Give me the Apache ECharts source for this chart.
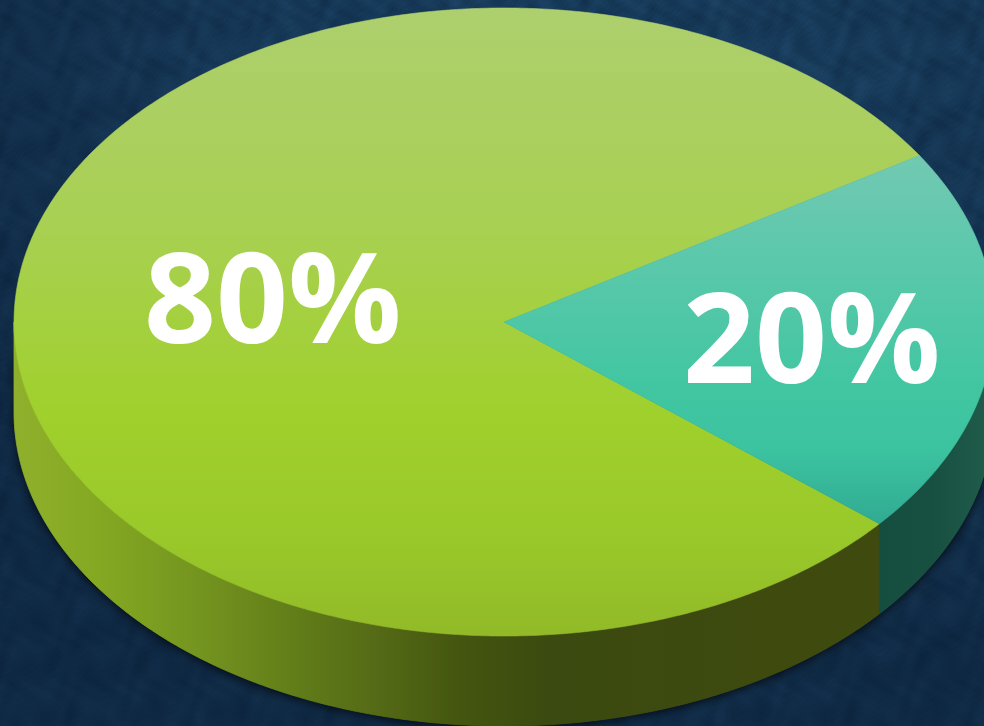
<!DOCTYPE html>
<html>
<head>
<meta charset="utf-8">
<style>html,body{margin:0;padding:0;background:#12355a}#chart{width:984px;height:726px}</style>
<script src="https://cdn.jsdelivr.net/npm/echarts@6/dist/echarts.min.js"></script>
</head>
<body>
<div id="chart"></div>
<script>
// Slice data
const categories = ['Majority', 'Minority'];
const sliceValues = [80, 20];
const sliceLabels = ['80%', '20%'];

// Disc geometry: ellipse of the top face and height of the rim
const cx = 504, cy = 322, rx = 490, ry = 314, depth = 90;
// Angle (degrees, counter-clockwise from east) where the minority slice begins
const minorityStartDeg = 32;
// Label anchors, as a fraction of the radii from the centre
const labelAnchor = [{ fx: -0.472, fy: -0.048 }, { fx: 0.628, fy: 0.079 }];
const labelFont = '700 126px "Open Sans", sans-serif';

const total = sliceValues.reduce((a, b) => a + b, 0);
const spans = sliceValues.map(v => v / total * 360);
// Sweep clockwise: minority from its start, majority taking the rest
const sweeps = [
  { from: minorityStartDeg - spans[1], to: minorityStartDeg - spans[1] - spans[0] },
  { from: minorityStartDeg, to: minorityStartDeg - spans[1] }
];

const pt = (deg, dy) => {
  const a = deg * Math.PI / 180;
  return [cx + rx * Math.cos(a), cy - ry * Math.sin(a) + (dy || 0)];
};
const arc = (from, to, dy) => {
  const n = Math.max(2, Math.ceil(Math.abs(to - from) * 2));
  const out = [];
  for (let i = 0; i <= n; i++) out.push(pt(from + (to - from) * i / n, dy));
  return out;
};
const vertical = (y0, y1, stops) => ({
  type: 'linear', global: true, x: 0, y: y0, x2: 0, y2: y1,
  colorStops: stops.map(s => ({ offset: s[0], color: s[1] }))
});
const horizontal = (x0, x1, stops) => ({
  type: 'linear', global: true, x: x0, y: 0, x2: x1, y2: 0,
  colorStops: stops.map(s => ({ offset: s[0], color: s[1] }))
});

// Top face shading
const topFills = [
  vertical(8, 636, [[0, '#aecf6e'], [0.35, '#a8d052'], [0.65, '#a0d02c'], [0.85, '#99c82a'], [1, '#92ba28']]),
  vertical(155, 523, [[0, '#72c9b2'], [0.3, '#5ac8ab'], [0.62, '#42c6a2'], [0.8, '#3cc3a0'], [1, '#31ab93']])
];
// Rim shading
const rimFills = [
  horizontal(14, 877, [[0, '#8fb02c'], [0.1, '#84a822'], [0.22, '#73931f'], [0.34, '#5f7a18'],
                       [0.42, '#556a16'], [0.52, '#43550f'], [0.62, '#3b4a10'], [1, '#404a0e']]),
  horizontal(877, 984, [[0, '#154d3f'], [0.5, '#174f40'], [1, '#1f5b4a']])
];

// Fine woven damask tile used behind the disc
function makeTile() {
  const size = 260;
  const c = document.createElement('canvas');
  c.width = c.height = size;
  const g = c.getContext('2d');
  const img = g.createImageData(size, size);
  const k = 2 * Math.PI / size;
  for (let y = 0; y < size; y++) {
    for (let x = 0; x < size; x++) {
      const motif =
        Math.sin(k * 3 * x + 1.6 * Math.sin(k * 2 * y)) * Math.cos(k * 4 * y + 1.4 * Math.cos(k * 3 * x)) +
        0.6 * Math.sin(k * (7 * x + 5 * y) + 2.1 * Math.sin(k * 4 * x)) +
        0.5 * Math.cos(k * (9 * x - 8 * y) + 1.9 * Math.cos(k * 5 * y));
      const weave =
        Math.sin(k * 61 * x + 3 * Math.sin(k * 13 * y)) * Math.sin(k * 67 * y + 3 * Math.sin(k * 17 * x)) +
        0.6 * Math.sin(k * 37 * (x + y) + 2.5 * Math.cos(k * 11 * x));
      const d = motif * 4.5 + weave * 1.8;
      const i = (y * size + x) * 4;
      img.data[i] = 24 + d * 0.6;
      img.data[i + 1] = 60 + d;
      img.data[i + 2] = 92 + d * 1.2;
      img.data[i + 3] = 255;
    }
  }
  g.putImageData(img, 0, 0);
  return c;
}

function renderSlice(params, api) {
  const idx = params.dataIndex;
  const s = sweeps[idx];
  const children = [];

  // Soft cast shadow under the whole rim, drawn once beneath both slices
  if (idx === 0) {
    children.push({
      type: 'polygon',
      shape: { points: arc(0, -180, 0).concat(arc(-180, 0, depth)) },
      style: { fill: '#3b4a10', shadowBlur: 9, shadowOffsetY: 3, shadowColor: 'rgba(0,0,0,0.65)' }
    });
  }

  // Rim: only the part of the sweep on the front half of the disc
  const rimFrom = Math.min(s.from, 0);
  const rimTo = Math.max(s.to, -180);
  if (rimFrom > rimTo) {
    children.push({
      type: 'polygon',
      shape: { points: arc(rimFrom, rimTo, 0).concat(arc(rimTo, rimFrom, depth)) },
      style: { fill: rimFills[idx], stroke: rimFills[idx], lineWidth: 0.8 }
    });
  }

  // Top face
  children.push({
    type: 'polygon',
    shape: { points: [[cx, cy]].concat(arc(s.from, s.to, 0)) },
    style: { fill: topFills[idx], stroke: topFills[idx], lineWidth: 0.6 }
  });

  // Value label
  const anchor = labelAnchor[idx];
  children.push({
    type: 'text',
    x: cx + anchor.fx * rx,
    y: cy + anchor.fy * ry,
    style: {
      text: sliceLabels[idx],
      fill: '#ffffff',
      font: labelFont,
      align: 'center',
      verticalAlign: 'middle'
    }
  });

  return { type: 'group', children };
}

const chart = echarts.init(document.getElementById('chart'), null, { renderer: 'canvas' });
chart.setOption({
  animation: false,
  backgroundColor: { image: makeTile(), repeat: 'repeat' },
  graphic: [{
    type: 'rect',
    z: -10,
    silent: true,
    shape: { x: 0, y: 0, width: 984, height: 726 },
    style: {
      fill: {
        type: 'radial', x: 0.6, y: 0.1, r: 0.95,
        colorStops: [
          { offset: 0, color: 'rgba(6,22,44,0)' },
          { offset: 0.45, color: 'rgba(6,22,44,0.1)' },
          { offset: 1, color: 'rgba(6,22,44,0.5)' }
        ]
      }
    }
  }],
  series: [{
    type: 'custom',
    coordinateSystem: 'none',
    silent: true,
    clip: false,
    renderItem: renderSlice,
    data: categories.map((name, i) => ({ name, value: sliceValues[i] }))
  }]
});
</script>
</body>
</html>
